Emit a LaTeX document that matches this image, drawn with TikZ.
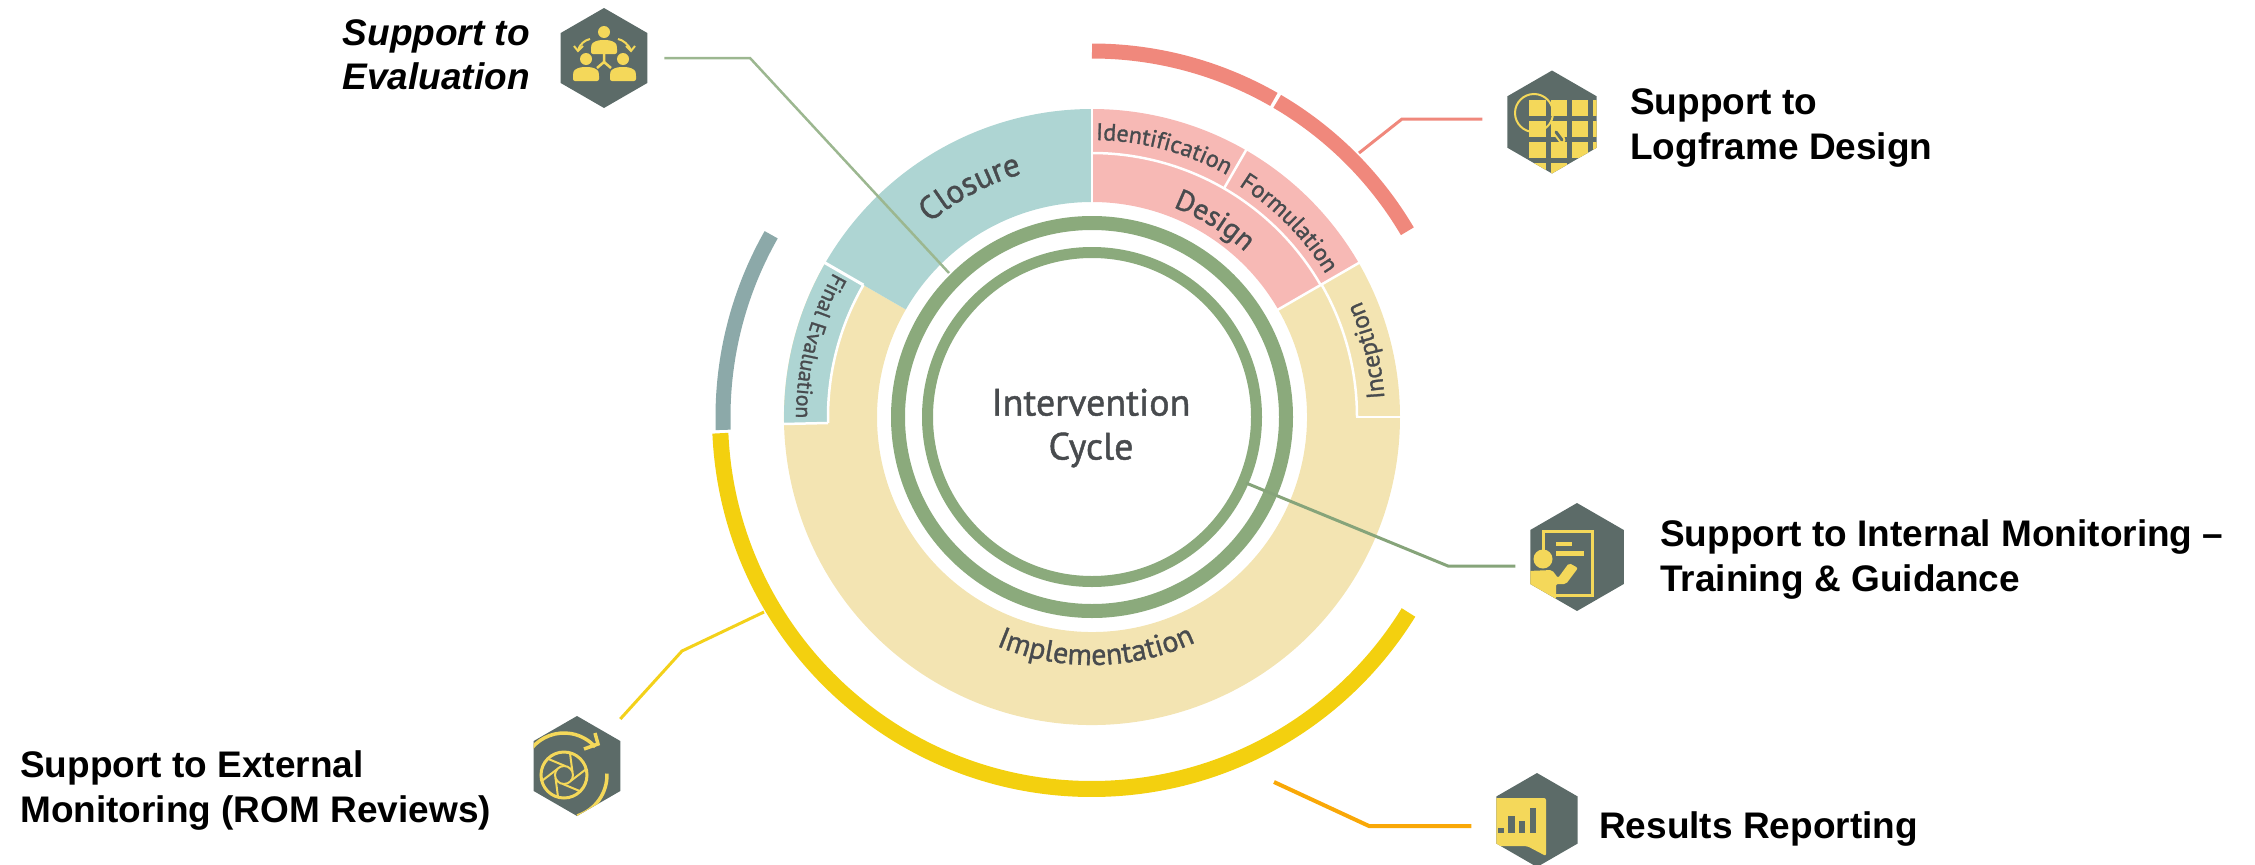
\documentclass[tikz,border=0pt]{standalone}
\usepackage{fontspec}
\usetikzlibrary{shapes.geometric,decorations.text}
\setmainfont{Liberation Sans}
\newfontfamily\cyclefont[RawFeature={embolden=1.2}]{PT Sans}
\definecolor{closureteal}{HTML}{AED5D3}
\definecolor{designpink}{HTML}{F7B9B5}
\definecolor{implsand}{HTML}{F3E4B2}
\definecolor{ringgreen}{HTML}{8BAA7C}
\definecolor{arcred}{HTML}{F0887C}
\definecolor{arcslate}{HTML}{8CA9A9}
\definecolor{arcyellow}{HTML}{F3D00F}
\definecolor{hexgrey}{HTML}{5C6B68}
\definecolor{iconyellow}{HTML}{F4D85A}
\definecolor{inkgrey}{HTML}{484B4E}
\newcommand{\arcfont}[1]{\cyclefont\fontsize{#1}{#1}\selectfont\color{inkgrey}}
\newcommand{\band}[5]{\fill [#1] ([shift={(#2:#5pt)}]hub) arc (#2:#3:#5pt) -- ([shift={(#3:#4pt)}]hub) arc (#3:#2:#4pt) -- cycle;}
\newcommand{\sweep}[5]{\draw [#1,line width=#5pt] ([shift={(#2:#4pt)}]hub) arc (#2:#3:#4pt);}
\newcommand{\bendtext}[5]{\path [decorate,decoration={text along path,text align=center,text={|\arcfont{#4}|#5}}] ([shift={(#1:#3pt)}]hub) arc (#1:#2:#3pt);}
\newcommand{\hexclip}[1]{\clip (#1.corner 1) -- (#1.corner 2) -- (#1.corner 3) -- (#1.corner 4) -- (#1.corner 5) -- (#1.corner 6) -- cycle;}
\newcommand{\personicon}[2]{\begin{scope}[shift={(#1,#2)}]
            \fill [iconyellow] (0,0) circle (6pt);
            \fill [iconyellow,rounded corners=2pt] (-13,-22) -- (-13,-15) .. controls (-12,-10) and (-6,-8) .. (0,-8) .. controls (6,-8) and (12,-10) .. (13,-15) -- (13,-22) -- cycle;
          \end{scope}}
\begin{document}
\begin{tikzpicture}[x=1pt,y=1pt]
          \tikzstyle{every node}+=[inner sep=0pt]
          \tikzstyle{hexicon}=[regular polygon,regular polygon sides=6,shape border rotate=30,fill=hexgrey,outer sep=0pt]
          \tikzstyle{boldlabel}=[font=\bfseries\fontsize{37}{45}\selectfont,align=left,anchor=west,text=black]
          \tikzstyle{evallabel}=[font=\bfseries\itshape\fontsize{37}{44}\selectfont,align=right,anchor=east,text=black]
          \tikzstyle{leadgreen}=[draw=ringgreen!85!white,line width=2.5pt]
          \tikzstyle{leadteal}=[draw=ringgreen!90!hexgrey,line width=3pt]
          \tikzstyle{leadred}=[draw=arcred,line width=3pt]
          \tikzstyle{leadlemon}=[draw=arcyellow!85!iconyellow,line width=3pt]
          \tikzstyle{leadamber}=[draw=arcyellow!50!orange,line width=4pt]
          \tikzstyle{iconline}=[draw=iconyellow,line width=3pt]
          \useasboundingbox (0,-865) rectangle (2255,0);
          \coordinate (hub) at (1092,-417);
          \band{implsand}{150}{390}{215}{308}
          \band{closureteal}{150}{90}{215}{308}
          \band{designpink}{90}{30}{215}{308}
          \band{closureteal}{181.3}{150}{265}{308}
          \draw [white,line width=3pt] ([shift={(150:264pt)}]hub) -- ([shift={(150:309pt)}]hub);
          \draw [white,line width=2.5pt] ([shift={(181.3:264pt)}]hub) -- ([shift={(181.3:309pt)}]hub);
          \draw [white,line width=2.5pt] ([shift={(90:214pt)}]hub) -- ([shift={(90:309pt)}]hub);
          \draw [white,line width=2.5pt] ([shift={(30:214pt)}]hub) -- ([shift={(30:309pt)}]hub);
          \draw [white,line width=2.5pt] ([shift={(60:264pt)}]hub) -- ([shift={(60:309pt)}]hub);
          \draw [white,line width=2.5pt] ([shift={(0:264pt)}]hub) -- ([shift={(0:309pt)}]hub);
          \sweep{white}{90}{30}{264}{2.5}
          \sweep{white}{30}{0}{265}{2.5}
          \sweep{white}{181.3}{150}{264}{2.5}
          \draw [ringgreen,line width=14pt] (hub) circle (194pt);
          \draw [ringgreen,line width=11pt] (hub) circle (164.5pt);
          \sweep{arcred}{90}{60.2}{366}{15}
          \sweep{arcred}{59.6}{30.5}{366}{15}
          \sweep{arcslate}{182}{150.4}{369}{15}
          \sweep{arcyellow}{182.5}{328.3}{372}{16}
          \bendtext{130}{106}{253}{33}{Closure}
          \bendtext{89.5}{60.5}{277}{24}{Identification}
          \bendtext{58.5}{30.5}{274}{24}{Formulation}
          \bendtext{70}{46}{225}{29}{Design}
          \bendtext{2}{25}{293}{25}{Inception}
          \bendtext{150}{181}{296}{22}{Final Evaluation}
          \bendtext{245}{297}{248}{30}{Implementation}
          \node (cycle) [font=\cyclefont\fontsize{38}{44}\selectfont,text=inkgrey,align=center] at (1091,-428) {Intervention\\Cycle};
          \node (hexEval) [hexicon,minimum size=100pt] at (604,-58) {};
          \node (hexFrame) [hexicon,minimum size=103pt] at (1552,-122) {};
          \node (hexGuide) [hexicon,minimum size=108pt] at (1577,-557) {};
          \node (hexRom) [hexicon,minimum size=100pt] at (577,-766) {};
          \node (hexResult) [hexicon,minimum size=94pt] at (1537,-820) {};
          \node (evalLabel) [evallabel] at (530,-55) {Support to\\Evaluation};
          \node (frameLabel) [boldlabel] at (1630,-128) {Support to\\Logframe Design};
          \node (guideLabel) [boldlabel] at (1660,-560) {Support to Internal Monitoring --\\Training \& Guidance};
          \node (romLabel) [boldlabel] at (20,-791) {Support to External\\Monitoring (ROM Reviews)};
          \node (resultLabel) [boldlabel] at (1599,-829) {Results Reporting};
          \coordinate (evalBend) at (750,-58);
          \coordinate (evalRing) at (949,-273);
          \coordinate (frameBend) at (1402,-119);
          \coordinate (frameArc) at (1359,-153);
          \coordinate (guideBend) at (1448,-566);
          \coordinate (guideRing) at (1246,-483);
          \coordinate (romBend) at (682,-651);
          \coordinate (romArc) at (764,-612);
          \coordinate (resultBend) at (1369,-826);
          \coordinate (resultArc) at (1274,-782);
          \draw [leadgreen,shorten <=17pt] (hexEval.east) -- (evalBend) -- (evalRing);
          \draw [leadred,shorten <=25pt] ([yshift=3pt]hexFrame.west) -- (frameBend) -- (frameArc);
          \draw [leadteal,shorten <=15pt] ([yshift=-9pt]hexGuide.west) -- (guideBend) -- (guideRing);
          \draw [leadlemon] ([yshift=22pt]hexRom.corner 6) -- (romBend) -- (romArc);
          \draw [leadamber,shorten <=25pt] ([yshift=-6pt]hexResult.west) -- (resultBend) -- (resultArc);
          \personicon{604}{-32}
          \personicon{586}{-59}
          \personicon{623}{-59}
          \draw [iconline,line width=2.5pt] (604,-54) -- (604,-62) -- (597,-68);
          \draw [iconline,line width=2.5pt] (604,-62) -- (611,-68);
          \draw [iconline,line width=2pt] (590,-39) .. controls (585,-40) and (580,-44) .. (578,-50);
          \draw [iconline,line width=2pt] (574,-46) -- (578,-51) -- (583,-46);
          \draw [iconline,line width=2pt] (618,-39) .. controls (623,-40) and (628,-44) .. (631,-50);
          \draw [iconline,line width=2pt] (626,-46) -- (631,-51) -- (635,-46);
          \begin{scope}
            \hexclip{hexFrame}
            \foreach \colx/\colw in {1529/17,1551/16,1572/16,1593/10}
              \foreach \rowy/\rowh in {100/16,121/16,142/16,163/16}
                \fill [iconyellow] (\colx,-\rowy) rectangle ++(\colw,-\rowh);
            \draw [iconyellow,line width=2pt] (1534,-113) circle (19pt);
            \draw [iconyellow,line width=7pt,line cap=round] (1556,-132) -- (1562,-140);
            \draw [hexgrey,line width=3pt,line cap=round] (1556,-132) -- (1562,-140);
          \end{scope}
          \begin{scope}
            \hexclip{hexGuide}
            \draw [iconline] (1543,-552) -- (1543,-531) -- (1592,-531) -- (1592,-595) -- (1556,-595);
            \fill [iconyellow] (1556,-542) rectangle (1572,-546);
            \fill [iconyellow] (1556,-551) rectangle (1584,-556);
            \fill [iconyellow] (1543,-559) circle (9.5pt);
            \fill [iconyellow,rounded corners=2pt] (1528,-571) -- (1552,-570) -- (1558,-578) -- (1569,-563) -- (1578,-568) -- (1566,-584) -- (1556,-584) -- (1556,-600) -- (1528,-600) -- cycle;
          \end{scope}
          \begin{scope}
            \hexclip{hexRom}
            \coordinate (aperture) at (564,-775);
            \draw [iconline] (aperture) circle (23pt);
            \draw [iconyellow,line width=2pt] (aperture) circle (9pt);
            \foreach \blade in {20,80,...,320}
              \draw [iconyellow,line width=2pt] ([shift={(\blade:9pt)}]aperture) -- ([shift={(\blade+55:23pt)}]aperture);
            \draw [iconline,line width=3.5pt] ([shift={(140:42pt)}]aperture) arc (140:42:42pt);
            \draw [iconline,line width=3.5pt] ([shift={(2:43pt)}]aperture) arc (2:-72:43pt);
            \draw [iconline,line width=3.5pt] (595,-733) -- (598,-744) -- (584,-749);
          \end{scope}
          \begin{scope}
            \hexclip{hexResult}
            \fill [iconyellow,rounded corners=2pt] (1490,-798) -- (1546,-798) -- (1546,-856) -- (1527,-846) -- (1490,-846) -- cycle;
            \fill [hexgrey] (1498,-828) rectangle (1504,-833);
            \fill [hexgrey] (1508,-816) rectangle (1515,-833);
            \fill [hexgrey] (1519,-821) rectangle (1525,-833);
            \fill [hexgrey] (1530,-808) rectangle (1536,-833);
          \end{scope}
          \end{tikzpicture}
\end{document}
